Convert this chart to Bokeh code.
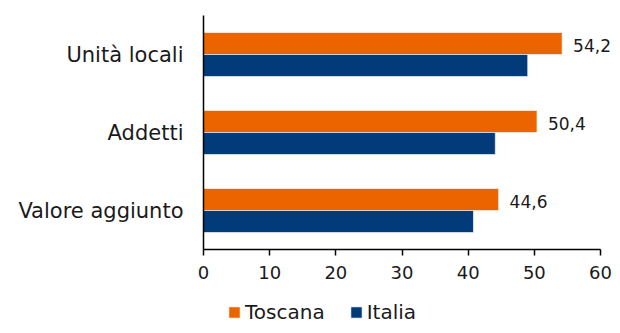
from bokeh.plotting import figure
from bokeh.models import ColumnDataSource, Range1d, LabelSet, Legend, LegendItem, FixedTicker
from bokeh.embed import file_html
from bokeh.resources import INLINE
from bokeh.core.properties import value

categories = ["Unità locali", "Addetti", "Valore aggiunto"]
toscana = [54.2, 50.4, 44.6]
italia = [49.0, 44.1, 40.8]
toscana_labels = ["54,2", "50,4", "44,6"]
x_ticks = [0, 10, 20, 30, 40, 50, 60]

FONT = "DejaVu Sans"
TEXT = "#1a1a1a"
ORANGE = "#EB6400"
BLUE = "#023B7A"

# layout geometry (pixels)
W, H = 612, 325
LEFT, TOP, AXIS_RIGHT, AXIS_Y = 203, 15, 600, 249
x_max = 60
n = len(categories)
band_px = (AXIS_Y - TOP) / n
px_per_unit = (AXIS_RIGHT - LEFT) / x_max
x_start = -LEFT / px_per_unit
x_end = (W - LEFT) / px_per_unit
y_top = (n - 0.5) + TOP / band_px
y_bottom = -0.5 - (H - AXIS_Y) / band_px

BAR_H = 0.282
OFF = BAR_H / 2

pos = [n - 1 - i for i in range(n)]
src = ColumnDataSource(dict(
    pos=pos,
    y_t=[v + OFF for v in pos],
    y_i=[v - OFF for v in pos],
    toscana=toscana, italia=italia, lab=toscana_labels))

p = figure(width=W, height=H, output_backend="svg", toolbar_location=None,
           x_range=Range1d(x_start, x_end), y_range=Range1d(y_bottom, y_top),
           min_border_left=0, min_border_right=0, min_border_top=0, min_border_bottom=0)

r1 = p.hbar(y="y_t", right="toscana", left=0, height=BAR_H, source=src,
            fill_color=ORANGE, line_color="white", line_alpha=0.6, line_width=1)
r2 = p.hbar(y="y_i", right="italia", left=0, height=BAR_H, source=src,
            fill_color=BLUE, line_color="white", line_alpha=0.6, line_width=1)

labels = LabelSet(x="toscana", y="y_t", text="lab", source=src,
                  x_offset=11, y_offset=-2, text_baseline="middle", text_align="left",
                  text_font=value(FONT), text_font_size="17px", text_color=TEXT)
p.add_layout(labels)

p.xgrid.visible = False
p.ygrid.visible = False
p.outline_line_color = None

p.xaxis.ticker = FixedTicker(ticks=x_ticks)
p.xaxis.bounds = (0, x_max)
p.xaxis.fixed_location = -0.5
p.xaxis.major_tick_out = 6
p.xaxis.major_tick_in = 0
p.xaxis.minor_tick_line_color = None
p.xaxis.major_label_standoff = 10
p.xaxis.major_label_text_font = FONT
p.xaxis.major_label_text_font_size = "18px"
p.xaxis.major_label_text_color = TEXT
p.xaxis.axis_line_width = 1.5
p.xaxis.axis_line_color = "black"
p.xaxis.major_tick_line_width = 1.5
p.xaxis.major_tick_line_color = "black"

p.yaxis.ticker = FixedTicker(ticks=pos)
p.yaxis.major_label_overrides = {v: c for v, c in zip(pos, categories)}
p.yaxis.bounds = (-0.5, n - 0.5)
p.yaxis.fixed_location = 0
p.yaxis.major_tick_line_color = None
p.yaxis.minor_tick_line_color = None
p.yaxis.major_tick_out = 0
p.yaxis.major_tick_in = 0
p.yaxis.major_label_standoff = 20
p.yaxis.major_label_text_font = FONT
p.yaxis.major_label_text_font_size = "21px"
p.yaxis.major_label_text_color = TEXT
p.yaxis.axis_line_width = 1.5
p.yaxis.axis_line_color = "black"

legend = Legend(items=[LegendItem(label="Toscana", renderers=[r1]),
                       LegendItem(label="Italia", renderers=[r2])],
                orientation="horizontal", location=(24 + LEFT, 1),
                padding=0, margin=0, spacing=24, glyph_width=14, glyph_height=14,
                label_standoff=4, label_text_font=FONT, label_text_font_size="20px",
                label_text_color=TEXT, border_line_color=None, background_fill_alpha=0)
p.add_layout(legend, "center")

open("out.html", "w").write(file_html(p, INLINE))
